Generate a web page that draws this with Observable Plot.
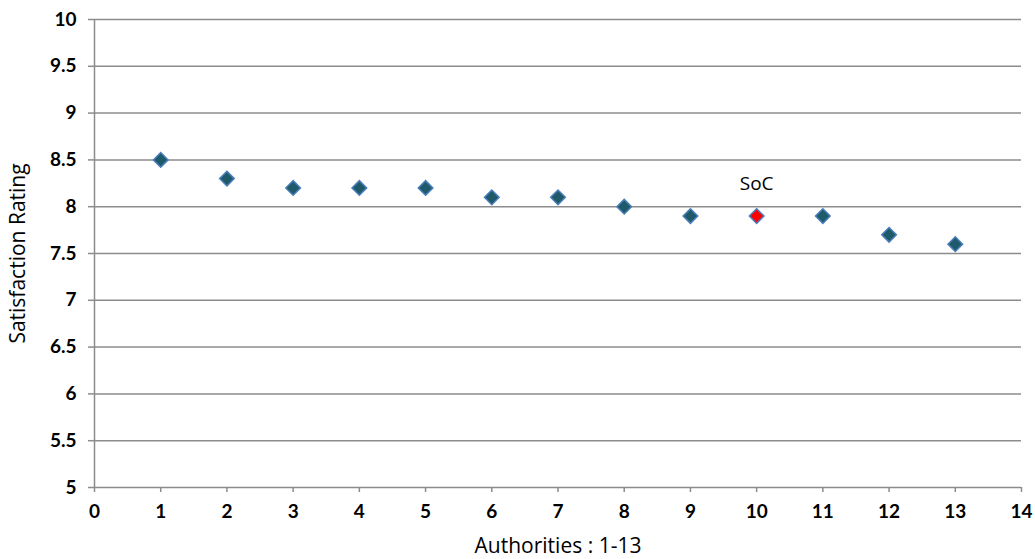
<!DOCTYPE html>
<html>
<head>
<meta charset="utf-8">
<script src="https://cdn.jsdelivr.net/npm/d3@7"></script>
<script src="https://cdn.jsdelivr.net/npm/@observablehq/plot@0.6"></script>
<style>
  html, body { margin: 0; padding: 0; background: #fff; }
</style>
</head>
<body>
<div id="chart"></div>
<script>
const authorities = [1, 2, 3, 4, 5, 6, 7, 8, 9, 10, 11, 12, 13];
const ratings = [8.5, 8.3, 8.2, 8.2, 8.2, 8.1, 8.1, 8.0, 7.9, 7.9, 7.9, 7.7, 7.6];
const highlighted = [false, false, false, false, false, false, false, false, false, true, false, false, false];
const xTicks = [0, 1, 2, 3, 4, 5, 6, 7, 8, 9, 10, 11, 12, 13, 14];
const yTicks = [5, 5.5, 6, 6.5, 7, 7.5, 8, 8.5, 9, 9.5, 10];
const annotationText = ["SoC"];

const data = authorities.map((a, i) => ({x: a, y: ratings[i], soc: highlighted[i]}));
const labelData = data.filter(d => d.soc).map(d => ({...d, label: annotationText[0]}));

const gridColor = "#8c8c8c";

const chart = Plot.plot({
  width: 1035,
  height: 559,
  marginLeft: 94,
  marginRight: 14,
  marginTop: 19,
  marginBottom: 72,
  style: {fontFamily: "Lato, 'DejaVu Sans', sans-serif", background: "#fff", overflow: "visible"},
  x: {domain: [0, 14]},
  y: {domain: [5, 10]},
  marks: [
    Plot.ruleY(yTicks.filter(v => v > 5), {stroke: gridColor, strokeWidth: 1.5}),
    Plot.ruleX([0], {y1: 5, y2: 10, stroke: gridColor, strokeWidth: 1.5}),
    Plot.ruleY([5], {x1: 0, x2: 14, stroke: gridColor, strokeWidth: 1.5}),
    Plot.axisY({ticks: yTicks, tickSize: 6, tickPadding: 12, stroke: gridColor, strokeWidth: 1.5,
      tickFormat: d => String(d), label: null, fontSize: 19, fontWeight: "bold", fill: "#000"}),
    Plot.axisX({ticks: xTicks, tickSize: 5, tickPadding: 12, stroke: gridColor, strokeWidth: 1.5,
      tickFormat: d => String(d), label: null, fontSize: 19, fontWeight: "bold", fill: "#000"}),
    Plot.dot(data, {x: "x", y: "y", symbol: "diamond2", r: 6.6,
      fill: d => d.soc ? "#ff0000" : "#1f5a6a", stroke: "#4a7ebb", strokeWidth: 1.5}),
    Plot.text(labelData, {x: "x", y: "y", text: "label", dy: -32, fontSize: 19,
      fontFamily: "'Open Sans', sans-serif", fill: "#000"}),
    Plot.text(["Authorities : 1-13"], {frameAnchor: "bottom", dy: 65, fontSize: 21,
      fontFamily: "'Open Sans', sans-serif", fill: "#000"}),
    Plot.text(["Satisfaction Rating"], {frameAnchor: "left", textAnchor: "middle", dx: -76, rotate: -90, fontSize: 21,
      fontFamily: "'Open Sans', sans-serif", fill: "#000"})
  ]
});
document.getElementById("chart").appendChild(chart);
</script>
</body>
</html>
